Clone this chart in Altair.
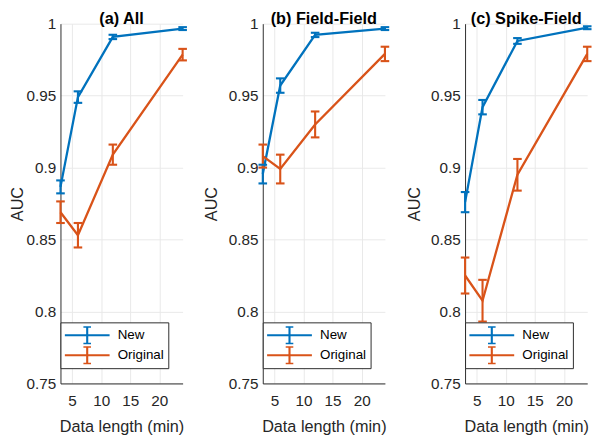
import altair as alt
import pandas as pd

# ---------------- data ----------------
x_minutes = [3, 6, 12, 24]
series_names = ["New", "Original"]
panel_titles = ["(a) All", "(b) Field-Field", "(c) Spike-Field"]

all_new_auc = [0.8866, 0.949, 0.9908, 0.9966]
all_new_err = [0.0045, 0.004, 0.0015, 0.001]
all_orig_auc = [0.869, 0.853, 0.909, 0.9785]
all_orig_err = [0.0075, 0.0085, 0.007, 0.004]

ff_new_auc = [0.8955, 0.957, 0.9922, 0.9966]
ff_new_err = [0.0065, 0.005, 0.0015, 0.001]
ff_orig_auc = [0.908, 0.899, 0.930, 0.979]
ff_orig_err = [0.008, 0.010, 0.009, 0.005]

sf_new_auc = [0.876, 0.942, 0.988, 0.9972]
sf_new_err = [0.007, 0.005, 0.002, 0.001]
sf_orig_auc = [0.825, 0.8075, 0.895, 0.979]
sf_orig_err = [0.0125, 0.0145, 0.011, 0.005]

y_ticks = [0.75, 0.8, 0.85, 0.9, 0.95, 1.0]
x_ticks = [5, 10, 15, 20]

colors = ["#0072BD", "#D95319"]
FONT = "Liberation Sans"
TXT = "#262626"

PLOT_H = 377
LEGEND_TOP_VALUE = 0.7925
LEGEND_PATH = "M-2.47,0H2.47M0,-0.95V0.95M-0.42,-0.95H0.42M-0.42,0.95H0.42"


def make_df(new_auc, new_err, orig_auc, orig_err):
    rows = []
    for name, m, e in [("New", new_auc, new_err), ("Original", orig_auc, orig_err)]:
        for x, v, d in zip(x_minutes, m, e):
            rows.append({"x": x, "auc": v, "lo": v - d, "hi": v + d, "series": name})
    return pd.DataFrame(rows)


def panel(df, title, title_pad):
    xs = alt.X("x:Q", scale=alt.Scale(domain=[3, 24], nice=False, zero=False),
               axis=alt.Axis(values=x_ticks, title="Data length (min)", labelPadding=10,
                             titlePadding=11))
    ys = alt.Y("auc:Q", scale=alt.Scale(domain=[0.75, 1.0], nice=False, zero=False),
               axis=alt.Axis(values=y_ticks, format="~g", title="AUC", labelPadding=5,
                             titlePadding=title_pad))
    color_scale = alt.Scale(domain=series_names, range=colors)
    legend = alt.Legend(title=None, orient="none", legendX=0,
                        legendY=round(PLOT_H * (1 - LEGEND_TOP_VALUE) / 0.25),
                        symbolType=LEGEND_PATH, symbolSize=361, symbolStrokeWidth=2.2,
                        symbolOffset=13, labelOffset=21, fillColor="white",
                        strokeColor=TXT, padding=4, rowPadding=2, clipHeight=19,
                        labelFontSize=14, labelColor="black", labelFont=FONT,
                        cornerRadius=0)
    base = alt.Chart(df)
    line = base.mark_line(strokeWidth=2.4).encode(
        x=xs, y=ys, color=alt.Color("series:N", scale=color_scale, legend=legend))
    bars = base.mark_rule(strokeWidth=2.2, opacity=1).encode(
        x="x:Q", y="lo:Q", y2="hi:Q", color=alt.Color("series:N", scale=color_scale))
    cap_lo = base.mark_tick(orient="horizontal", size=9, thickness=2.2, opacity=1).encode(
        x="x:Q", y="lo:Q", color=alt.Color("series:N", scale=color_scale))
    cap_hi = base.mark_tick(orient="horizontal", size=9, thickness=2.2, opacity=1).encode(
        x="x:Q", y="hi:Q", color=alt.Color("series:N", scale=color_scale))
    return alt.layer(line, bars, cap_lo, cap_hi).properties(
        width=128, height=PLOT_H,
        title=alt.Title(title, fontSize=17, fontWeight="bold", font=FONT, color="black",
                        offset=-12, anchor="middle"))


pa = panel(make_df(all_new_auc, all_new_err, all_orig_auc, all_orig_err), panel_titles[0], 0)
pb = panel(make_df(ff_new_auc, ff_new_err, ff_orig_auc, ff_orig_err), panel_titles[1], 8)
pc = panel(make_df(sf_new_auc, sf_new_err, sf_orig_auc, sf_orig_err), panel_titles[2], 8)

chart = alt.hconcat(pa, pb, pc, spacing=16).resolve_legend(color="independent").properties(
    padding={"left": 0, "top": -8, "right": 0, "bottom": 0}
).configure_view(stroke=None).configure_axis(
    labelFont=FONT, titleFont=FONT, labelFontSize=16, titleFontSize=17,
    labelColor=TXT, titleColor=TXT, titleFontWeight="normal",
    domainColor=TXT, domainWidth=1, ticks=False,
    gridColor="#e8e8e8", gridWidth=1,
)

chart.save("out.html", embed_options={"renderer": "svg", "actions": False})
